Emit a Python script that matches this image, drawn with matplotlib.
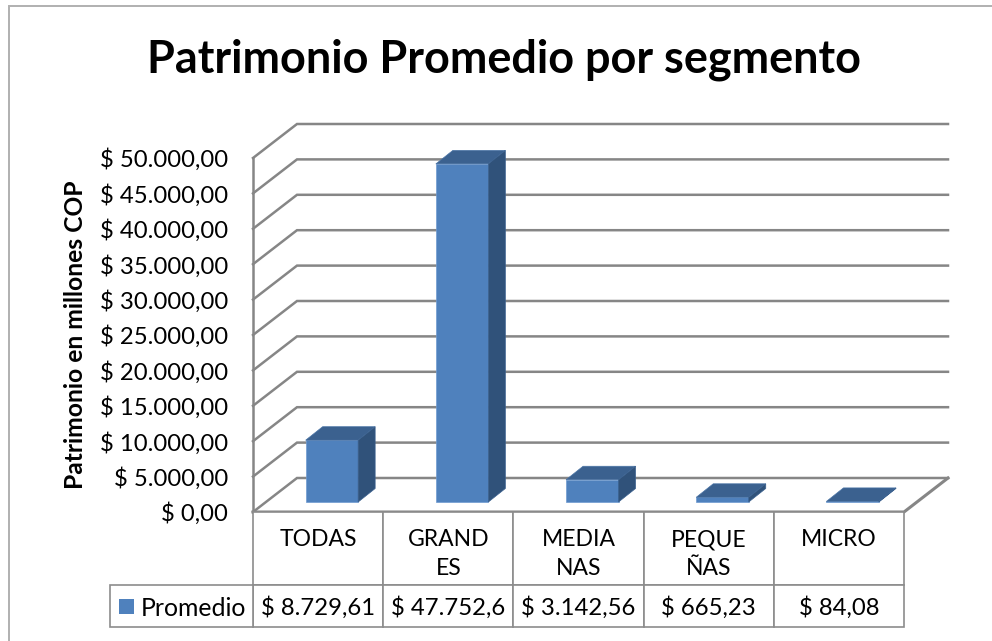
import matplotlib
matplotlib.use("Agg")
import matplotlib.pyplot as plt
from matplotlib.lines import Line2D
from matplotlib.patches import Polygon, Rectangle

plt.rcParams['font.family'] = ['Lato', 'DejaVu Sans']

categories = ["TODAS", "GRAND\nES", "MEDIA\nNAS", "PEQUE\nÑAS", "MICRO"]
promedio = [8729.61, 47752.6, 3142.56, 665.23, 84.08]
value_labels = ["$ 8.729,61", "$ 47.752,6", "$ 3.142,56", "$ 665,23", "$ 84,08"]
ticks = list(range(0, 50001, 5000))
tick_labels = ["$ 0,00", "$ 5.000,00", "$ 10.000,00", "$ 15.000,00", "$ 20.000,00", "$ 25.000,00",
               "$ 30.000,00", "$ 35.000,00", "$ 40.000,00", "$ 45.000,00", "$ 50.000,00"]
series_name = "Promedio"
title = "Patrimonio Promedio por segmento"
ylabel = "Patrimonio en millones COP"

W, H = 992, 641
fig = plt.figure(figsize=(W / 100, H / 100), dpi=100, facecolor="white")
L, R, T, B = 253, 904, 158, 512
ax = fig.add_axes([L / W, 1 - B / H, (R - L) / W, (B - T) / H])
ax.set_xlim(0, 5)
ax.set_ylim(0, 50000)
ax.patch.set_visible(False)
for s in ax.spines.values():
    s.set_visible(False)

GRID = "#868686"
def ux(p):  # pixels to x units
    return p * 5 / (R - L)
def uy(p):  # pixels to y units
    return p * 50000 / (B - T)

# depth of the box
dx, dy = ux(44), uy(34)
for t in ticks:
    ax.plot([0, dx, 5 + dx], [t, t + dy, t + dy], color=GRID, lw=1.8, clip_on=False, zorder=1,
            solid_joinstyle="miter")
ax.plot([0, 0], [0, 50000], color=GRID, lw=1.8, clip_on=False, zorder=1)
ax.plot([0, 5, 5 + dx], [0, 0, dy], color=GRID, lw=2.2, clip_on=False, zorder=1)

# bars
FRONT, TOP, SIDE = "#4F81BD", "#3B618F", "#30527A"
bw = ux(52.5)
bdx, bdy = ux(17), uy(13.5)
oy = uy(10)
for i, v in enumerate(promedio):
    x0 = i + 0.5 - bw / 2 + ux(13.8)
    ax.bar(x0, v, width=bw, bottom=oy, align="edge", color=FRONT, edgecolor="#6f9bd1", lw=0.5, zorder=3, clip_on=False)
    top = oy + v
    ax.add_patch(Polygon([(x0, top), (x0 + bw, top), (x0 + bw + bdx, top + bdy), (x0 + bdx, top + bdy)],
                         fc=TOP, ec="#4a74a6", lw=0.5, zorder=3, clip_on=False))
    ax.add_patch(Polygon([(x0 + bw, oy), (x0 + bw + bdx, oy + bdy), (x0 + bw + bdx, top + bdy), (x0 + bw, top)],
                         fc=SIDE, ec="#3B618F", lw=0.5, zorder=3, clip_on=False))

# value axis
ax.set_xticks([])
ax.set_yticks(ticks)
ax.set_yticklabels(tick_labels, fontsize=17.2, color="black")
ax.tick_params(axis="y", length=0, pad=18)
fig.text(76 / W, 1 - 335 / H, ylabel, rotation=90, fontsize=17.7, fontweight="bold", ha="center", va="center")

# data table
row1 = uy(73)
row2 = uy(42)
EDGE = "#8c8c8c"
for i, (c, lab) in enumerate(zip(categories, value_labels)):
    ax.add_patch(Rectangle((i, -row1), 1, row1, fc="white", ec=EDGE, lw=1.2, clip_on=False, zorder=2))
    ax.add_patch(Rectangle((i, -row1 - row2), 1, row2, fc="white", ec=EDGE, lw=1.2, clip_on=False, zorder=2))
    ax.text(i + 0.5, -uy(17), c, ha="center", va="top", fontsize=16.5, linespacing=1.48, zorder=4)
    ax.text(i + 0.5, -row1 - row2 / 2, lab, ha="center", va="center_baseline", fontsize=17.2, zorder=4)
ax.add_patch(Rectangle((-ux(143), -row1 - row2), ux(143), row2, fc="white", ec=EDGE, lw=1.2, clip_on=False, zorder=2))
ax.add_patch(Rectangle((-ux(134), -row1 - row2 + uy(13.5)), ux(15), uy(15), fc=FRONT, ec="none", clip_on=False, zorder=3))
ax.text(-ux(112), -row1 - row2 / 2, series_name, ha="left", va="center_baseline", fontsize=17.8, zorder=4)

# title and frame (only the left and top edges fall inside the picture)
fig.text(504 / W, 1 - 60 / H, title, ha="center", va="center", fontsize=32.4, fontweight="bold")
fig.add_artist(Line2D([8.5 / W, 8.5 / W, 1], [0, 1 - 5.5 / H, 1 - 5.5 / H], transform=fig.transFigure,
                      color="#b0b0b0", lw=1.4, solid_joinstyle="miter"))

fig.savefig("out.png", dpi=100)
